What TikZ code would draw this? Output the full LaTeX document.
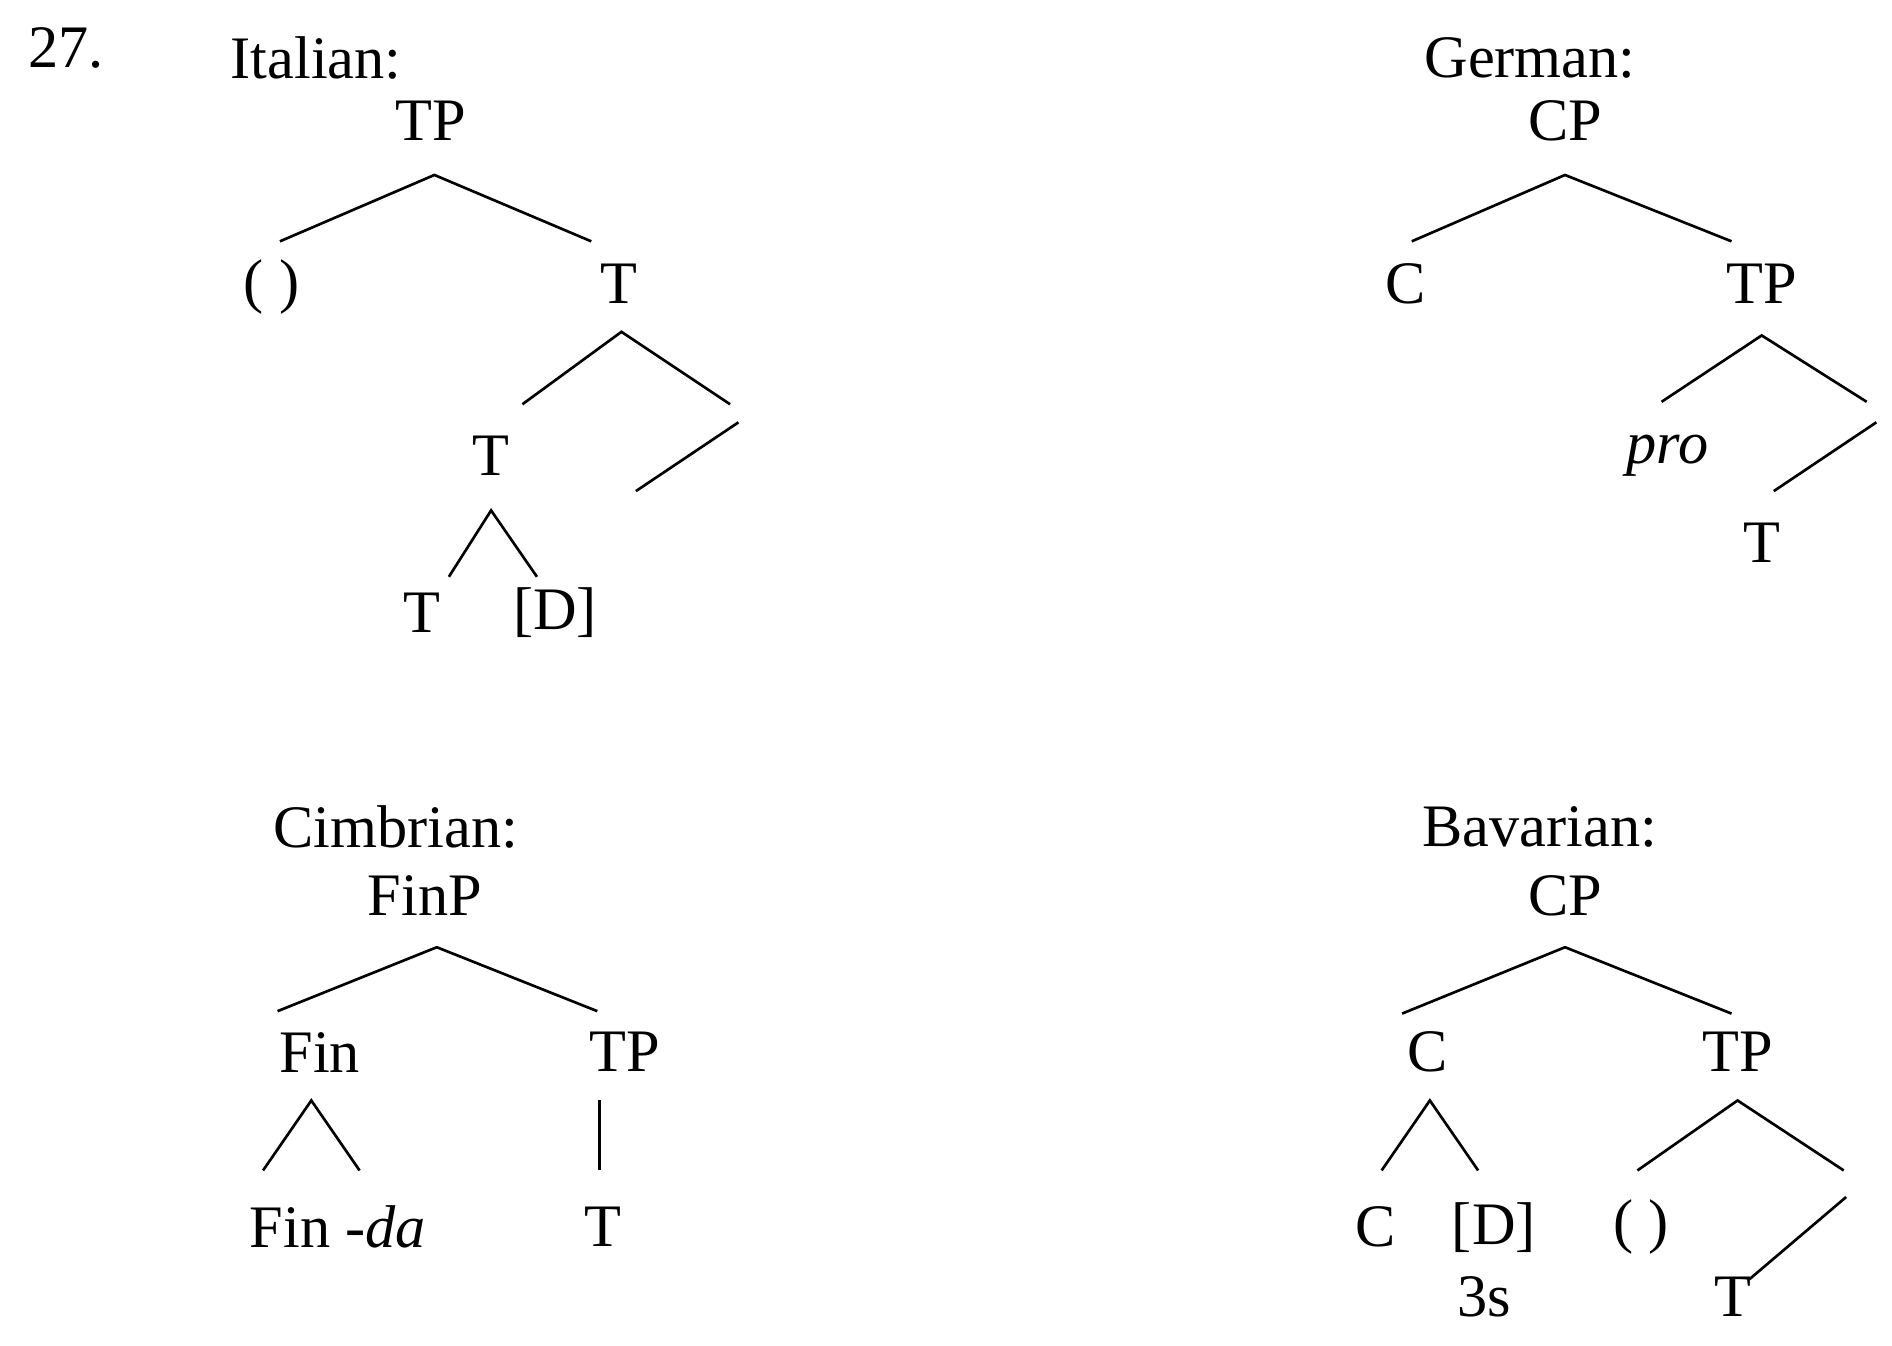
\documentclass[tikz,border=0pt]{standalone}
\usepackage{fontspec}
\setmainfont{Liberation Serif}
\begin{document}
\begin{tikzpicture}[x=0.5pt,y=-0.5pt,
  lab/.style={inner sep=0pt,font=\fontsize{25}{28}\selectfont},
  br/.style={line width=1.1pt}]
\useasboundingbox (0,0) rectangle (1568,1115);
\node[lab] (n27) at (55,40) {27.};
% Italian
\node[lab] (it) at (262,48) {Italian:};
\node[lab] (itTP) at (357,100) {TP};
\node[lab] (itP) at (225,238) {( )};
\node[lab] (itT1) at (513,235) {T};
\node[lab] (itT2) at (407,378) {T};
\node[lab] (itT3) at (350,508) {T};
\node[lab] (itD) at (460,508) {[D]};
\draw[br] (232,200)--(360,145)--(490,200);
\draw[br] (433,335)--(515,275)--(605,335);
\draw[br] (612,350)--(527,407);
\draw[br] (372,478)--(407,423)--(445,478);
% German
\node[lab] (ge) at (1268,48) {German:};
\node[lab] (geCP) at (1297,100) {CP};
\node[lab] (geC) at (1165,235) {C};
\node[lab] (geTP) at (1460,235) {TP};
\node[lab] (gepro) at (1382,378) {\itshape pro};
\node[lab] (geT) at (1460,450) {T};
\draw[br] (1170,200)--(1297,145)--(1435,200);
\draw[br] (1377,333)--(1460,278)--(1547,333);
\draw[br] (1555,350)--(1470,407);
% Cimbrian
\node[lab] (ci) at (328,685) {Cimbrian:};
\node[lab] (ciF) at (352,742) {FinP};
\node[lab] (ciFin) at (265,872) {Fin};
\node[lab] (ciTP) at (518,872) {TP};
\node[lab] (ciFd) at (280,1017) {Fin -\textit{da}};
\node[lab] (ciT) at (500,1017) {T};
\draw[br] (230,838)--(362,785)--(495,838);
\draw[br] (218,970)--(258,912)--(298,970);
\draw[br] (497,912)--(497,970);
% Bavarian
\node[lab] (ba) at (1276,685) {Bavarian:};
\node[lab] (baCP) at (1297,742) {CP};
\node[lab] (baC) at (1183,872) {C};
\node[lab] (baTP) at (1440,872) {TP};
\node[lab] (baC2) at (1140,1017) {C};
\node[lab] (baD) at (1238,1017) {[D]};
\node[lab] (ba3s) at (1230,1075) {3s};
\node[lab] (baP) at (1360,1017) {( )};
\node[lab] (baT) at (1436,1075) {T};
\draw[br] (1162,840)--(1297,785)--(1435,840);
\draw[br] (1145,970)--(1185,912)--(1225,970);
\draw[br] (1357,970)--(1440,912)--(1528,970);
\draw[br] (1530,992)--(1450,1060);
\end{tikzpicture}
\end{document}
